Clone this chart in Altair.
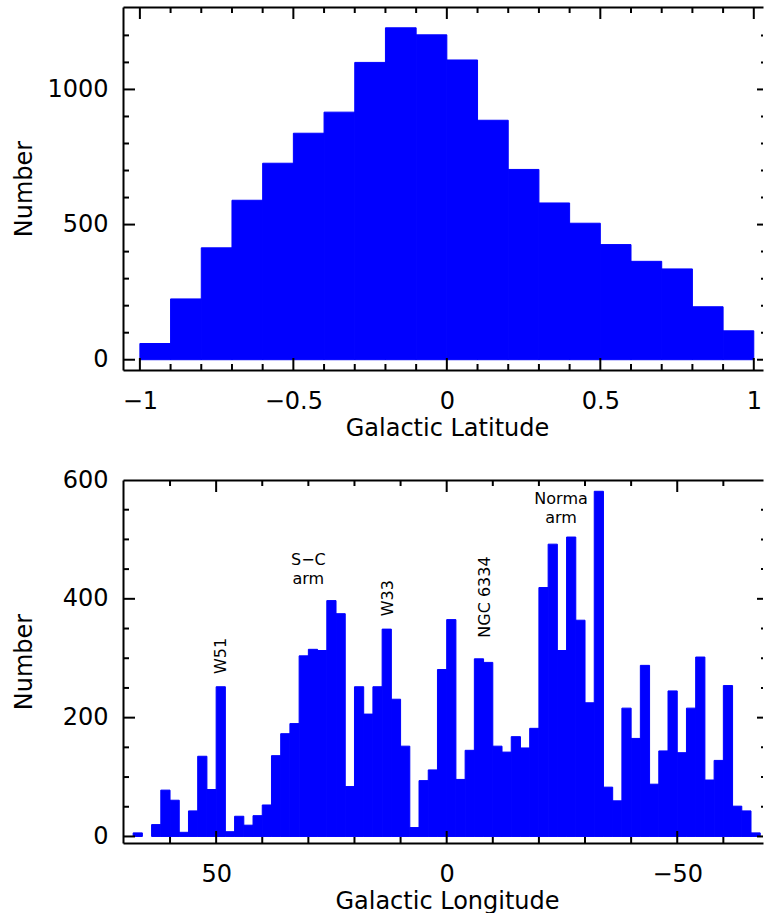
import altair as alt
import pandas as pd

# ---------------- data ----------------
# Galactic latitude histogram (bin lower edges, width 0.1)
lat_lo = [-1.0, -0.9, -0.8, -0.7, -0.6, -0.5, -0.4, -0.3, -0.2, -0.1,
          0.0, 0.1, 0.2, 0.3, 0.4, 0.5, 0.6, 0.7, 0.8, 0.9]
lat_counts = [60, 225, 414, 590, 727, 838, 916, 1100, 1228, 1202,
              1109, 886, 704, 580, 505, 426, 364, 336, 196, 107]

# Galactic longitude histogram (bin upper edges, width 2 deg)
lon_hi = [68, 66, 64, 62, 60, 58, 56, 54, 52, 50, 48, 46, 44, 42, 40, 38, 36, 34,
          32, 30, 28, 26, 24, 22, 20, 18, 16, 14, 12, 10, 8, 6, 4, 2, 0,
          -2, -4, -6, -8, -10, -12, -14, -16, -18, -20, -22, -24, -26, -28, -30,
          -32, -34, -36, -38, -40, -42, -44, -46, -48, -50, -52, -54, -56, -58,
          -60, -62, -64, -66]
lon_counts = [6, 0, 20, 78, 61, 7, 43, 135, 79, 252,
              8, 34, 19, 35, 53, 136, 173, 190, 304, 315,
              313, 397, 375, 84, 252, 206, 252, 349, 231, 152,
              15, 94, 112, 281, 365, 96, 145, 299, 293, 152,
              142, 168, 149, 182, 419, 492, 313, 504, 364, 225,
              581, 83, 60, 216, 165, 288, 88, 144, 245, 141,
              216, 302, 95, 128, 254, 51, 43, 6]

# annotations on the longitude panel
ann_text = ["W51", "S\u2212C\narm", "W33", "NGC 6334", "Norma\narm"]
ann_lon = [48.9, 30.0, 12.7, -8.3, -24.8]
ann_num = [304, 466, 401, 403, 568]
ann_angle = [270, 0, 270, 270, 0]

# tick values / labels
lat_major = [-1, -0.5, 0, 0.5, 1]
lat_minor = [-0.9, -0.8, -0.7, -0.6, -0.4, -0.3, -0.2, -0.1,
             0.1, 0.2, 0.3, 0.4, 0.6, 0.7, 0.8, 0.9]
latn_labels = [0, 500, 1000]
latn_major = [0, 500, 1000]
latn_minor = [100, 200, 300, 400, 600, 700, 800, 900, 1100, 1200]
lon_major = [50, 0, -50]
lon_minor = [60, 40, 30, 20, 10, -10, -20, -30, -40, -60]
lonn_labels = [0, 200, 400, 600]
lonn_major = [0, 200, 400]
lonn_minor = [50, 100, 150, 250, 300, 350, 450, 500, 550]

# ---------------- style ----------------
FONT = "DejaVu Sans"
BLUE = "#0000ff"
W = 640
H = 363
MAJ = 12
MIN = 6
SW = 2


def x_axis(values, title, fmt):
    return alt.Axis(values=values, format=fmt, title=title, orient="bottom",
                    labelFont=FONT, labelFontSize=24, labelColor="black",
                    labelBaseline="alphabetic", labelPadding=38, labelFlush=False,
                    labelOverlap=False, labelBound=False,
                    ticks=False, tickSize=0, grid=False,
                    domain=True, domainWidth=SW, domainColor="black",
                    titleFont=FONT, titleFontSize=24, titleFontWeight="normal",
                    titleColor="black", titleBaseline="alphabetic",
                    titleX=324, titleY=65, titleAlign="center")


def y_axis(values):
    return alt.Axis(values=values, format="d", title="Number", orient="left",
                    labelFont=FONT, labelFontSize=24, labelColor="black",
                    labelPadding=15, labelFlush=False, labelOverlap=False,
                    labelBound=False,
                    ticks=False, tickSize=0, grid=False,
                    domain=True, domainWidth=SW, domainColor="black",
                    titleFont=FONT, titleFontSize=24, titleFontWeight="normal",
                    titleColor="black", titleAngle=270, titleBaseline="middle",
                    titleAlign="center", titleX=-99, titleY=H / 2)


def tick_layers(xs, ys, xmaj, xmin, ymaj, ymin):
    layers = []
    top_axis = alt.Axis(orient="top", labels=False, ticks=False, domain=True,
                        domainWidth=SW, domainColor="black", title=None, grid=False)
    for vals, ln, is_top_axis in [(xmaj, MAJ, True), (xmin, MIN, False)]:
        df = pd.DataFrame({"v": vals})
        layers.append(alt.Chart(df).mark_rule(color="black", strokeWidth=SW).encode(
            x=alt.X("v:Q", scale=xs, axis=None),
            y=alt.value(H), y2=alt.value(H - ln)))
        layers.append(alt.Chart(df).mark_rule(color="black", strokeWidth=SW).encode(
            x=alt.X("v:Q", scale=xs, axis=top_axis if is_top_axis else None),
            y=alt.value(0), y2=alt.value(ln)))
    for vals, ln, rl in [(ymaj, MAJ, 6), (ymin, MIN, 2)]:
        df = pd.DataFrame({"v": vals})
        layers.append(alt.Chart(df).mark_rule(color="black", strokeWidth=SW).encode(
            y=alt.Y("v:Q", scale=ys, axis=None),
            x=alt.value(0), x2=alt.value(ln)))
        layers.append(alt.Chart(df).mark_rule(color="black", strokeWidth=SW).encode(
            y=alt.Y("v:Q", scale=ys, axis=None),
            x=alt.value(W - rl), x2=alt.value(W)))
    return layers


# ---------------- top panel ----------------
lat_df = pd.DataFrame({"lo": lat_lo, "n": lat_counts})
lat_df["hi"] = lat_df["lo"] + 0.1
xs_lat = alt.Scale(domain=[-1.055, 1.03], nice=False, zero=False)
ys_lat = alt.Scale(domain=[-38, 1305], nice=False, zero=False)

bars_lat = alt.Chart(lat_df).mark_rect(color=BLUE, stroke=BLUE, strokeWidth=1,
                                       clip=True).encode(
    x=alt.X("lo:Q", scale=xs_lat, axis=x_axis(lat_major, "Galactic Latitude", "~g")),
    x2="hi:Q",
    y=alt.Y("n:Q", scale=ys_lat, axis=y_axis(latn_labels)),
    y2=alt.datum(0),
)
top = alt.layer(bars_lat, *tick_layers(xs_lat, ys_lat, lat_major, lat_minor,
                                       latn_major, latn_minor)).resolve_axis(
    x="independent", y="independent").properties(width=W, height=H)

# ---------------- bottom panel ----------------
lon_df = pd.DataFrame({"hi": lon_hi, "n": lon_counts})
lon_df["lo"] = lon_df["hi"] - 2
xs_lon = alt.Scale(domain=[-68.6, 70.2], reverse=True, nice=False, zero=False)
ys_lon = alt.Scale(domain=[-11, 600], nice=False, zero=False)

bars_lon = alt.Chart(lon_df).transform_filter("datum.n > 0").mark_rect(
    color=BLUE, stroke=BLUE, strokeWidth=1, clip=True).encode(
    x=alt.X("lo:Q", scale=xs_lon, axis=x_axis(lon_major, "Galactic Longitude", "d")),
    x2="hi:Q",
    y=alt.Y("n:Q", scale=ys_lon, axis=y_axis(lonn_labels)),
    y2=alt.datum(0),
)
ann_df = pd.DataFrame({"t": ann_text, "lon": ann_lon, "num": ann_num, "ang": ann_angle})
ann = alt.Chart(ann_df).mark_text(font=FONT, fontSize=16, color="black",
                                  align="center", baseline="middle",
                                  lineBreak="\n", lineHeight=19).encode(
    x=alt.X("lon:Q", scale=xs_lon, axis=None),
    y=alt.Y("num:Q", scale=ys_lon, axis=None),
    text="t:N",
    angle=alt.Angle("ang:Q", scale=None),
)
bottom = alt.layer(bars_lon, ann, *tick_layers(xs_lon, ys_lon, lon_major, lon_minor,
                                               lonn_major, lonn_minor)).resolve_axis(
    x="independent", y="independent").properties(width=W, height=H)

chart = alt.vconcat(top, bottom, spacing=110, bounds="flush").properties(
    padding={"left": 12, "top": 6, "right": 0, "bottom": 0},
    background="white",
).configure_view(stroke=None)

chart.save("out.html", embed_options={"renderer": "svg", "actions": False})
